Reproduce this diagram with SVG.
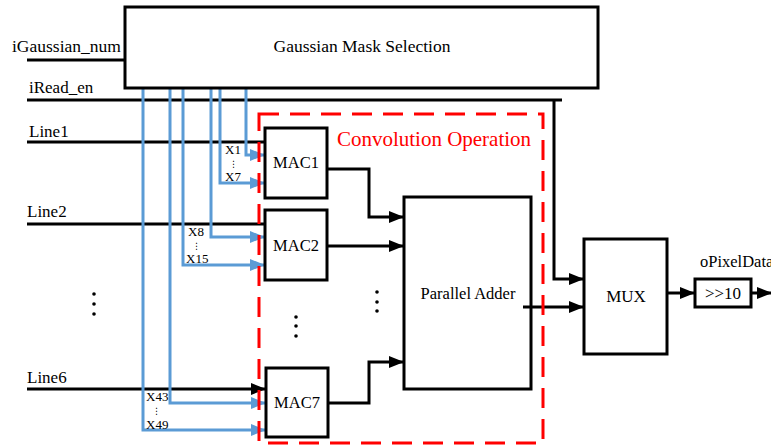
<svg xmlns="http://www.w3.org/2000/svg" width="771" height="445" viewBox="0 0 771 445">
<style>
.box{fill:#fff;stroke:#000;stroke-width:3}
.w{fill:none;stroke:#000;stroke-width:3}
.b{fill:none;stroke:#5B9BD5;stroke-width:3}
.t{font-family:"Liberation Serif","Times New Roman",serif;font-size:16.5px;fill:#000}
.s{font-family:"Liberation Serif","Times New Roman",serif;font-size:13px;fill:#000}
.d{font-family:"DejaVu Sans",sans-serif;font-size:9px;fill:#000}
</style>
<defs>
<marker id="ak" markerUnits="userSpaceOnUse" markerWidth="15" markerHeight="12" refX="15" refY="6" orient="auto"><path d="M0,0 L15,6 L0,12 z" fill="#000"/></marker>
<marker id="ab" markerUnits="userSpaceOnUse" markerWidth="15" markerHeight="12" refX="15" refY="6" orient="auto"><path d="M0,0 L15,6 L0,12 z" fill="#5B9BD5"/></marker>
</defs>
<g id="inputs">
<text class="t" x="12" y="52" style="font-size:17.5px">iGaussian_num</text>
<text class="t" x="29" y="93" style="font-size:17px">iRead_en</text>
<text class="t" x="29" y="137" style="font-size:17px">Line1</text>
<text class="t" x="27" y="217" style="font-size:17px">Line2</text>
<text class="t" x="27" y="383" style="font-size:17px">Line6</text>
<circle cx="94" cy="294" r="1.8"/><circle cx="94" cy="304" r="1.8"/><circle cx="94" cy="314" r="1.8"/>
</g>
<g id="connectors">
<path class="w" d="M27,60 H125"/>
<path class="w" d="M27,100 H562 M554,100 V279 H584" marker-end="url(#ak)"/>
<path class="w" d="M27,142 H267"/>
<path class="w" d="M27,224 H267"/>
<path class="w" d="M27,389 H266" marker-end="url(#ak)"/>
<path class="b" d="M246,88 V155 H265" marker-end="url(#ab)"/>
<path class="b" d="M220,88 V183 H265" marker-end="url(#ab)"/>
<path class="b" d="M211,88 V237 H265" marker-end="url(#ab)"/>
<path class="b" d="M183,88 V265 H265" marker-end="url(#ab)"/>
<path class="b" d="M170,88 V403 H266" marker-end="url(#ab)"/>
<path class="b" d="M143,88 V430 H266" marker-end="url(#ab)"/>
<path class="w" d="M327,169 H369 V217 H404" marker-end="url(#ak)"/>
<path class="w" d="M327,246 H404" marker-end="url(#ak)"/>
<path class="w" d="M328,403 H369 V362 H404" marker-end="url(#ak)"/>
<path class="w" d="M523,307 H584" marker-end="url(#ak)"/>
<path class="w" d="M667,293 H695" marker-end="url(#ak)"/>
<path class="w" d="M751,293 H772" marker-end="url(#ak)"/>
</g>
<g id="labels">
<text class="s" x="225" y="154">X1</text>
<text class="d" x="229" y="167">⋮</text>
<text class="s" x="225" y="181">X7</text>
<text class="s" x="188" y="236">X8</text>
<text class="d" x="192" y="249">⋮</text>
<text class="s" x="186" y="263">X15</text>
<text class="s" x="146" y="401">X43</text>
<text class="d" x="152" y="414">⋮</text>
<text class="s" x="146" y="429">X49</text>
</g>
<g id="gms">
<rect class="box" x="125" y="7" width="473" height="81"/>
<text class="t" x="362" y="52" text-anchor="middle" style="font-size:17.5px">Gaussian Mask Selection</text>
</g>
<g id="conv">
<rect x="259" y="114" width="284" height="329" fill="none" stroke="#FF0000" stroke-width="3" stroke-dasharray="20 11"/>
<text x="434" y="146" text-anchor="middle" font-family="Liberation Serif,'Times New Roman',serif" font-size="21" fill="#FF0000">Convolution Operation</text>
</g>
<g id="mac1"><rect class="box" x="265" y="128" width="62" height="70"/><text class="t" x="296" y="168" text-anchor="middle">MAC1</text></g>
<g id="mac2"><rect class="box" x="265" y="210" width="62" height="70"/><text class="t" x="296" y="251" text-anchor="middle">MAC2</text></g>
<g id="mac7"><rect class="box" x="266" y="368" width="62" height="69"/><text class="t" x="297" y="408" text-anchor="middle">MAC7</text></g>
<g id="dots">
<circle cx="296" cy="317" r="1.8"/><circle cx="296" cy="326" r="1.8"/><circle cx="296" cy="336" r="1.8"/>
<circle cx="377" cy="292" r="1.8"/><circle cx="377" cy="302" r="1.8"/><circle cx="377" cy="311" r="1.8"/>
</g>
<g id="adder"><rect class="box" x="404" y="197" width="127" height="192" style="fill:none"/><text class="t" x="468" y="299" text-anchor="middle">Parallel Adder</text></g>
<g id="mux"><rect class="box" x="584" y="239" width="83" height="115"/><text class="t" x="626" y="302" text-anchor="middle" style="font-size:17px">MUX</text></g>
<g id="shift"><rect class="box" x="695" y="279" width="56" height="28"/><text class="t" x="723" y="299" text-anchor="middle" style="font-size:17px">&gt;&gt;10</text></g>
<g id="out"><text class="t" x="700" y="267">oPixelData</text></g>
</svg>
